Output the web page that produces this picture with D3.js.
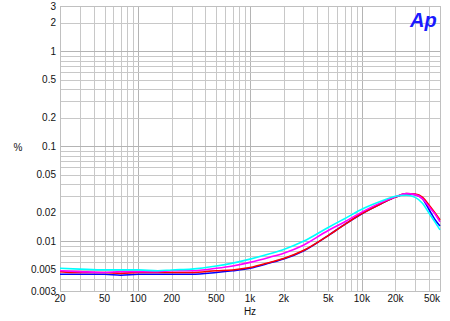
<!DOCTYPE html>
<html>
<head>
  <style>
    body { margin: 0; background: #fff; }
    text { font-family: "Liberation Sans", Arial, sans-serif; font-size: 10px; fill: #111; }
    .grid line { stroke: #c8c8c8; stroke-width: 1; shape-rendering: crispEdges; }
    .grid line.major { stroke: #b4b4b4; }
    .trace { fill: none; stroke-width: 1.6; }
  </style>
</head>
<body>
  <script src="https://cdn.jsdelivr.net/npm/d3@7/dist/d3.min.js"></script>
  <script>
    // frequencies (Hz)
    const freqs = [20, 30, 50, 70, 100, 150, 200, 300, 500, 700, 1000, 1500, 2000, 3000,
                   5000, 7000, 10000, 15000, 20000, 25000, 30000, 35000, 40000, 45000, 50000];

    // THD+N (%) per trace
    const blueVals    = [0.0045, 0.0045, 0.0045, 0.0044, 0.0045, 0.0045, 0.0045, 0.0045, 0.0047, 0.0049, 0.0052, 0.0059, 0.0065, 0.0079,
                         0.0115, 0.0150, 0.0195, 0.0250, 0.0292, 0.0315, 0.0310, 0.0280, 0.0215, 0.0170, 0.0145];
    const redVals     = [0.0048, 0.0047, 0.0047, 0.0046, 0.0047, 0.0047, 0.0047, 0.0047, 0.0049, 0.0050, 0.0053, 0.0060, 0.0066, 0.0080,
                         0.0115, 0.0150, 0.0196, 0.0250, 0.0292, 0.0318, 0.0315, 0.0290, 0.0240, 0.0200, 0.0168];
    const magentaVals = [0.0049, 0.0048, 0.0047, 0.0048, 0.0048, 0.0048, 0.0049, 0.0049, 0.0052, 0.0055, 0.0060, 0.0068, 0.0075, 0.0091,
                         0.0130, 0.0160, 0.0203, 0.0257, 0.0295, 0.0318, 0.0310, 0.0280, 0.0230, 0.0195, 0.0160];
    const cyanVals    = [0.0052, 0.0051, 0.0050, 0.0050, 0.0050, 0.0049, 0.0050, 0.0051, 0.0055, 0.0059, 0.0065, 0.0074, 0.0082, 0.0100,
                         0.0140, 0.0173, 0.0218, 0.0266, 0.0298, 0.0305, 0.0290, 0.0250, 0.0197, 0.0160, 0.0132];

    const series = [
      { color: "#0000ff", values: blueVals },
      { color: "#ff0000", values: redVals },
      { color: "#ff00ff", values: magentaVals },
      { color: "#00ffff", values: cyanVals }
    ];

    const xTicks = [20, 50, 100, 200, 500, 1000, 2000, 5000, 10000, 20000, 50000];
    const xTickLabels = ["20", "50", "100", "200", "500", "1k", "2k", "5k", "10k", "20k", "50k"];
    const yTicks = [3, 2, 1, 0.5, 0.2, 0.1, 0.05, 0.02, 0.01, 0.005, 0.003];
    const yTickLabels = ["3", "2", "1", "0.5", "0.2", "0.1", "0.05", "0.02", "0.01", "0.005", "0.003"];

    const W = 450, H = 321;
    const plot = { left: 60, right: 440, top: 6, bottom: 291 };

    const x = d3.scaleLog().domain([20, 50000]).range([plot.left, plot.right]);
    const y = d3.scaleLog().domain([0.003, 3]).range([plot.bottom, plot.top]);

    const svg = d3.select("body").append("svg")
      .attr("width", W)
      .attr("height", H);

    // grid lines: 1..9 in every decade
    const xGrid = [];
    for (let d = 10; d <= 10000; d *= 10) {
      for (let m = 1; m <= 9; m++) {
        const v = d * m;
        if (v > 20 && v < 50000) xGrid.push(v);
      }
    }
    const yGrid = [];
    for (let d = 0.001; d <= 1.001; d *= 10) {
      for (let m = 1; m <= 9; m++) {
        const v = +(d * m).toPrecision(3);
        if (v > 0.003 && v < 3) yGrid.push(v);
      }
    }
    const isDecade = v => Math.abs(Math.log10(v) - Math.round(Math.log10(v))) < 1e-6;

    const grid = svg.append("g").attr("class", "grid");
    grid.selectAll("line.v").data(xGrid).enter().append("line")
      .attr("class", d => isDecade(d) ? "v major" : "v")
      .attr("x1", d => Math.round(x(d)) + 0.5).attr("x2", d => Math.round(x(d)) + 0.5)
      .attr("y1", plot.top).attr("y2", plot.bottom);
    grid.selectAll("line.h").data(yGrid).enter().append("line")
      .attr("class", d => isDecade(d) ? "h major" : "h")
      .attr("x1", plot.left).attr("x2", plot.right)
      .attr("y1", d => Math.round(y(d)) + 0.5).attr("y2", d => Math.round(y(d)) + 0.5);

    // frame
    svg.append("rect")
      .attr("x", plot.left + 0.5).attr("y", plot.top + 0.5)
      .attr("width", plot.right - plot.left).attr("height", plot.bottom - plot.top)
      .attr("fill", "none").attr("stroke", "#c0c0c0");

    // traces
    const line = d3.line()
      .x((d, i) => x(freqs[i]))
      .y(d => y(d))
      .curve(d3.curveMonotoneX);

    svg.append("g").selectAll("path").data(series).enter().append("path")
      .attr("class", "trace")
      .attr("stroke", d => d.color)
      .attr("d", d => line(d.values));

    // y tick labels
    svg.append("g").selectAll("text").data(yTicks).enter().append("text")
      .attr("x", plot.left - 4)
      .attr("y", d => y(d) + 3.5)
      .attr("text-anchor", "end")
      .text((d, i) => yTickLabels[i]);

    // x tick labels
    svg.append("g").selectAll("text").data(xTicks).enter().append("text")
      .attr("x", (d, i) => i === xTicks.length - 1 ? x(d) - 8 : x(d))
      .attr("y", plot.bottom + 11)
      .attr("text-anchor", "middle")
      .text((d, i) => xTickLabels[i]);

    // axis titles
    svg.append("text").attr("x", 18).attr("y", 151).attr("text-anchor", "middle").text("%");
    svg.append("text").attr("x", 250).attr("y", 315).attr("text-anchor", "middle").text("Hz");

    // Ap logo
    svg.append("text")
      .attr("x", 410).attr("y", 27)
      .style("font-size", "20px")
      .style("font-weight", "bold")
      .style("font-style", "italic")
      .style("fill", "#1a1aff")
      .text("Ap");
  </script>
</body>
</html>
